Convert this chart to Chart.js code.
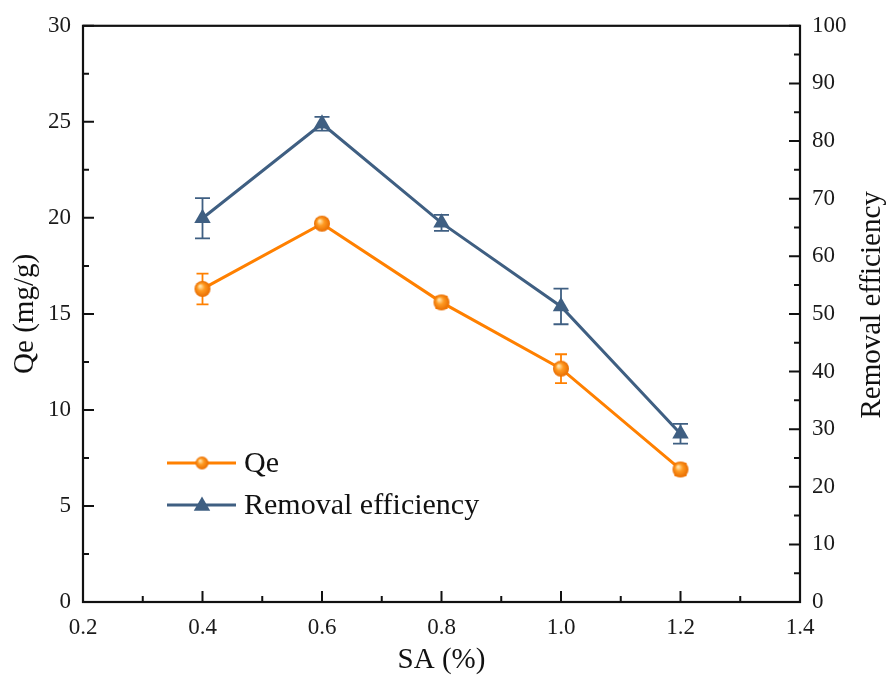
<!DOCTYPE html>
<html>
<head>
<meta charset="utf-8">
<script src="https://cdn.jsdelivr.net/npm/chart.js@4.4.0/dist/chart.umd.min.js"></script>
<style>
	html, body { margin: 0; padding: 0; background: #fff; }
	#wrap { width: 887px; height: 678px; }
</style>
</head>
<body>
<div id="wrap"><canvas id="canSA"></canvas></div>
<script>
'use strict'

//////////////////////////////////////////////////////////////////////
// data
const saContent = [0.4, 0.6, 0.8, 1.0, 1.2];          // SA (%)
const qeValues = [16.3, 19.7, 15.6, 12.15, 6.9];       // Qe (mg/g)
const qeErrors = [0.8, 0.15, 0.3, 0.75, 0.3];
const removalValues = [66.6, 83.0, 65.8, 51.3, 29.2];  // Removal efficiency
const removalErrors = [3.5, 1.2, 1.4, 3.1, 1.7];

// tick labels
const xTicks = [0.2, 0.4, 0.6, 0.8, 1.0, 1.2, 1.4];
const qeTicks = [0, 5, 10, 15, 20, 25, 30];
const removalTicks = [0, 10, 20, 30, 40, 50, 60, 70, 80, 90, 100];

const COLOR_QE = '#FF8000';
const COLOR_RE = '#3F5F82';
const FONT = '"Liberation Serif", "Times New Roman", serif';
const RIGHT_TITLE = 'Removal efficiency';

//////////////////////////////////////////////////////////////////////
// orange ball marker (shaded sphere)
let makeBall = function (r) {
	const c = document.createElement('canvas');
	c.width = c.height = r * 2 + 2;
	const g = c.getContext('2d');
	const cx = r + 1, cy = r + 1;
	const grad = g.createRadialGradient(cx - r * 0.3, cy - r * 0.35, r * 0.1, cx, cy, r);
	grad.addColorStop(0, '#FFE2A8');
	grad.addColorStop(0.4, '#FF9A22');
	grad.addColorStop(1, '#E86C00');
	g.fillStyle = grad;
	g.beginPath();
	g.arc(cx, cy, r, 0, Math.PI * 2);
	g.fill();
	return c;
};
const ballPoint = makeBall(8);
const ballLegend = makeBall(6.5);

let drawTriangle = function (ctx, x, y, r, color) {
	ctx.save();
	ctx.fillStyle = color;
	ctx.beginPath();
	for (let i = 0; i < 3; i++) {
		const a = i * Math.PI * 2 / 3;
		const px = x + Math.sin(a) * r, py = y - Math.cos(a) * r;
		if (i === 0) ctx.moveTo(px, py); else ctx.lineTo(px, py);
	}
	ctx.closePath();
	ctx.fill();
	ctx.restore();
};

//////////////////////////////////////////////////////////////////////
// error bars, behind the markers
const errorBarPlugin = {
	id: 'errorBars',
	beforeDatasetsDraw(chart) {
		const ctx = chart.ctx;
		const sx = chart.scales.x;
		const sets = [
			{ scale: chart.scales.y, val: qeValues, err: qeErrors, color: COLOR_QE, cap: 6 },
			{ scale: chart.scales.y1, val: removalValues, err: removalErrors, color: COLOR_RE, cap: 7.5 }
		];
		ctx.save();
		ctx.lineWidth = 1.8;
		for (const s of sets) {
			ctx.strokeStyle = s.color;
			saContent.forEach((x, i) => {
				const px = sx.getPixelForValue(x);
				const top = s.scale.getPixelForValue(s.val[i] + s.err[i]);
				const bot = s.scale.getPixelForValue(s.val[i] - s.err[i]);
				ctx.beginPath();
				ctx.moveTo(px, top); ctx.lineTo(px, bot);
				ctx.moveTo(px - s.cap, top); ctx.lineTo(px + s.cap, top);
				ctx.moveTo(px - s.cap, bot); ctx.lineTo(px + s.cap, bot);
				ctx.stroke();
			});
		}
		ctx.restore();
	}
};

//////////////////////////////////////////////////////////////////////
// closed frame, inward ticks, right title and in-plot legend
const framePlugin = {
	id: 'frame',
	afterDraw(chart) {
		const ctx = chart.ctx;
		const a = chart.chartArea;
		const MAJOR = 11, MINOR = 6;
		ctx.save();
		ctx.strokeStyle = '#111';
		ctx.lineWidth = 2;

		// x ticks (bottom, pointing up)
		const sx = chart.scales.x;
		ctx.beginPath();
		xTicks.forEach((v, i) => {
			const px = sx.getPixelForValue(v);
			ctx.moveTo(px, a.bottom); ctx.lineTo(px, a.bottom - MAJOR);
			if (i < xTicks.length - 1) {
				const mx = sx.getPixelForValue((v + xTicks[i + 1]) / 2);
				ctx.moveTo(mx, a.bottom); ctx.lineTo(mx, a.bottom - MINOR);
			}
		});
		// left ticks
		const sy = chart.scales.y;
		qeTicks.forEach((v, i) => {
			const py = sy.getPixelForValue(v);
			ctx.moveTo(a.left, py); ctx.lineTo(a.left + MAJOR, py);
			if (i < qeTicks.length - 1) {
				const my = sy.getPixelForValue((v + qeTicks[i + 1]) / 2);
				ctx.moveTo(a.left, my); ctx.lineTo(a.left + MINOR, my);
			}
		});
		// right ticks
		const sy1 = chart.scales.y1;
		removalTicks.forEach((v, i) => {
			const py = sy1.getPixelForValue(v);
			ctx.moveTo(a.right, py); ctx.lineTo(a.right - MAJOR, py);
			if (i < removalTicks.length - 1) {
				const my = sy1.getPixelForValue((v + removalTicks[i + 1]) / 2);
				ctx.moveTo(a.right, my); ctx.lineTo(a.right - MINOR, my);
			}
		});
		ctx.stroke();

		ctx.lineWidth = 2.2;
		ctx.strokeRect(a.left, a.top, a.right - a.left, a.bottom - a.top);

		// right axis title, reading bottom to top
		ctx.save();
		ctx.translate(sy1.right - 15, (a.top + a.bottom) / 2 - 9);
		ctx.rotate(-Math.PI / 2);
		ctx.font = '29px ' + FONT;
		ctx.textAlign = 'center';
		ctx.textBaseline = 'middle';
		ctx.fillStyle = '#111';
		ctx.fillText(RIGHT_TITLE, 0, 0);
		ctx.restore();

		// legend
		const lx0 = 167, lx1 = 236, lxm = 202, tx = 244;
		const rows = [
			{ y: 463, color: COLOR_QE, label: chart.data.datasets[0].label, ball: true },
			{ y: 505, color: COLOR_RE, label: chart.data.datasets[1].label, ball: false }
		];
		ctx.font = '30px ' + FONT;
		ctx.textBaseline = 'middle';
		ctx.fillStyle = '#111';
		for (const r of rows) {
			ctx.strokeStyle = r.color;
			ctx.lineWidth = 2.8;
			ctx.beginPath();
			ctx.moveTo(lx0, r.y); ctx.lineTo(lx1, r.y);
			ctx.stroke();
			if (r.ball) {
				ctx.drawImage(ballLegend, lxm - ballLegend.width / 2, r.y - ballLegend.height / 2);
			} else {
				drawTriangle(ctx, lxm, r.y + 1, 9.5, r.color);
			}
			ctx.fillText(r.label, tx, r.y + 1);
		}
		ctx.restore();
	}
};

//////////////////////////////////////////////////////////////////////
const tickFont = { family: FONT, size: 23 };
const titleFont = { family: FONT, size: 29, lineHeight: 1.0 };

const datasets = [
	{
		label: 'Qe',
		data: saContent.map((x, i) => ({ x: x, y: qeValues[i] })),
		yAxisID: 'y',
		borderColor: COLOR_QE,
		backgroundColor: COLOR_QE,
		borderWidth: 3,
		pointStyle: ballPoint,
		pointRadius: 8,
		tension: 0
	},
	{
		label: 'Removal efficiency',
		data: saContent.map((x, i) => ({ x: x, y: removalValues[i] })),
		yAxisID: 'y1',
		borderColor: COLOR_RE,
		backgroundColor: COLOR_RE,
		borderWidth: 3,
		pointStyle: 'triangle',
		pointRadius: 9.5,
		pointBorderWidth: 0,
		tension: 0
	}
];

const ctxSA = document.getElementById('canSA').getContext('2d');
const chartSA = new Chart(ctxSA, {
	type: 'line',
	data: { datasets: datasets },
	options: {
		responsive: true,
		maintainAspectRatio: false,
		animation: false,
		layout: { padding: { top: 25, left: 0, right: 0, bottom: 0 } },
		plugins: {
			legend: { display: false },
			tooltip: { enabled: false }
		},
		scales: {
			x: {
				type: 'linear',
				min: 0.2, max: 1.4,
				afterBuildTicks: (s) => { s.ticks = xTicks.map(v => ({ value: v })); },
				afterFit: (s) => { s.height = 76; },
				grid: { display: false, drawTicks: false },
				border: { display: false },
				ticks: { font: tickFont, color: '#1a1a1a', padding: 12, maxRotation: 0, callback: (v) => v.toFixed(1) },
				title: { display: true, text: 'SA (%)', font: titleFont, color: '#111', padding: { top: 0, bottom: 3 } }
			},
			y: {
				type: 'linear',
				position: 'left',
				min: 0, max: 30,
				afterBuildTicks: (s) => { s.ticks = qeTicks.map(v => ({ value: v })); },
				afterFit: (s) => { s.width = 83; },
				grid: { display: false, drawTicks: false },
				border: { display: false },
				ticks: { font: tickFont, color: '#1a1a1a', padding: 12 },
				title: { display: true, text: 'Qe (mg/g)', font: titleFont, color: '#111', padding: { top: 11, bottom: 0 } }
			},
			y1: {
				type: 'linear',
				position: 'right',
				min: 0, max: 100,
				afterBuildTicks: (s) => { s.ticks = removalTicks.map(v => ({ value: v })); },
				afterFit: (s) => { s.width = 87; },
				grid: { display: false, drawTicks: false },
				border: { display: false },
				ticks: { font: tickFont, color: '#1a1a1a', padding: 12 },
				title: { display: false }
			}
		}
	},
	plugins: [errorBarPlugin, framePlugin]
});
</script>
</body>
</html>
